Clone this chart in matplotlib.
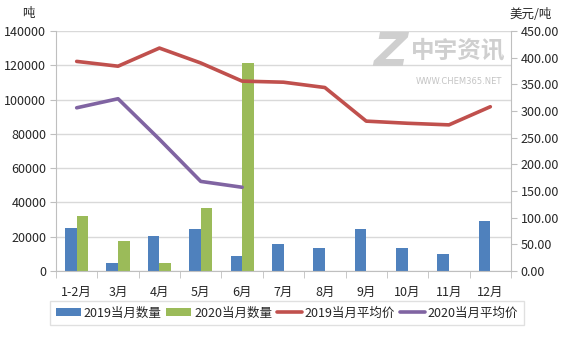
import matplotlib
matplotlib.use("Agg")
import matplotlib.pyplot as plt
import numpy as np
from matplotlib.ticker import FixedLocator

plt.rcParams['font.family'] = ['Noto Sans CJK SC', 'DejaVu Sans']

months = ['1-2月', '3月', '4月', '5月', '6月', '7月', '8月', '9月', '10月', '11月', '12月']
qty_2019 = [25000, 4500, 20600, 24300, 8800, 15800, 13200, 24300, 13600, 9700, 29200]
qty_2020 = [31800, 17700, 4500, 36600, 121500]
price_2019 = [393, 384, 418, 390, 356, 354, 344, 281, 277, 274, 308]
price_2020 = [306, 323, 247, 168, 157]

c_blue = '#4F81BD'
c_green = '#9BBB59'
c_red = '#C0504D'
c_purple = '#8064A2'
grid_c = '#D9D9D9'
axis_c = '#BFBFBF'
text_c = '#262626'

fig = plt.figure(figsize=(5.67, 3.4), dpi=100)
ax = fig.add_axes([56/567, 1-271/340, (511-56)/567, 240/340])
ax2 = ax.twinx()

x = np.arange(len(months))
x20 = np.arange(len(qty_2020))
bw = 0.28
ax.bar(x - bw/2, qty_2019, width=bw, color=c_blue, label='2019当月数量', zorder=2)
ax.bar(x20 + bw/2, qty_2020, width=bw, color=c_green, label='2020当月数量', zorder=2)

ax2.plot(x, price_2019, color=c_red, lw=2.6, label='2019当月平均价', solid_capstyle='round')
ax2.plot(x20, price_2020, color=c_purple, lw=2.6, label='2020当月平均价', solid_capstyle='round')

ax.set_xlim(-0.5, len(months) - 0.5)
ax.set_ylim(0, 140000)
ax.set_yticks(np.arange(0, 140001, 20000))
ax.set_yticklabels([f'{v:d}' for v in range(0, 140001, 20000)])
ax2.set_ylim(0, 450)
ax2.set_yticks(np.arange(0, 451, 50))
ax2.set_yticklabels([f'{v:.2f}' for v in range(0, 451, 50)])

ax.set_xticks(x)
ax.set_xticklabels(months)
ax.xaxis.set_minor_locator(FixedLocator(np.arange(-0.5, len(months), 1)))
ax.tick_params(axis='x', which='major', length=0, pad=11, labelsize=9, colors=text_c)
ax.tick_params(axis='x', which='minor', length=5, color=axis_c)
ax.tick_params(axis='y', length=4, color=axis_c, labelsize=9, labelcolor=text_c, pad=3)
ax2.tick_params(axis='y', length=4, color=axis_c, labelsize=9, labelcolor=text_c, pad=3)

ax.grid(axis='y', color=grid_c, lw=1, zorder=0)
ax.set_axisbelow(True)
for a in (ax, ax2):
    a.spines['top'].set_visible(False)
    for s in ('left', 'right', 'bottom'):
        a.spines[s].set_color(axis_c)
ax.spines['right'].set_visible(False)
ax2.spines['left'].set_visible(False)
ax2.spines['bottom'].set_visible(False)

fig.text(28/567, 1-14/340, '吨', fontsize=9, color=text_c, ha='center', va='center')
fig.text(531/567, 1-14/340, '美元/吨', fontsize=9, color=text_c, ha='center', va='center')

# watermark
fig.text(390/567, 1-54/340, 'Z', fontsize=34, fontweight='bold', fontstyle='italic',
         color='#CFCFCF', ha='center', va='center', family='DejaVu Sans', zorder=0)
fig.text(458/567, 1-50/340, '中宇资讯', fontsize=17, fontweight='bold',
         color='#CFCFCF', ha='center', va='center', zorder=0)
fig.text(459/567, 1-81/340, 'WWW.CHEM365.NET', fontsize=6,
         color='#C4C4C4', ha='center', va='center', family='DejaVu Sans', zorder=0)

h1, l1 = ax.get_legend_handles_labels()
h2, l2 = ax2.get_legend_handles_labels()
leg = fig.legend(h1 + h2, l1 + l2, loc='center', bbox_to_anchor=(287/567, 1-313/340),
                 ncol=4, fontsize=9, frameon=True, fancybox=False, edgecolor='#D9D9D9',
                 handlelength=2.0, handleheight=0.6, columnspacing=0.35, handletextpad=0.25,
                 borderpad=0.45)
for t in leg.get_texts():
    t.set_color(text_c)

fig.savefig('out.png', dpi=100)
